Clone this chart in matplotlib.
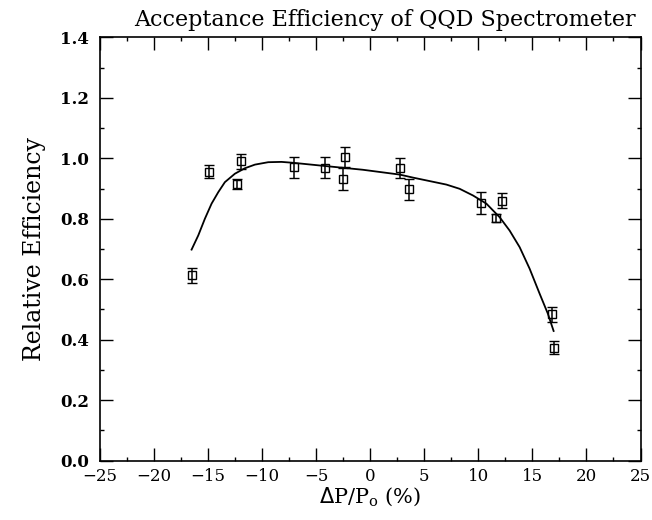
import numpy as np
import matplotlib
matplotlib.use('Agg')
import matplotlib.pyplot as plt
from matplotlib.ticker import MultipleLocator, FormatStrFormatter

# measured points
dp = [-16.53, -14.93, -11.94, -12.31, -7.05, -4.16, -2.31, -2.50,
      2.79, 3.55, 10.21, 12.15, 11.60, 16.84, 17.03]
eff = [0.613, 0.956, 0.990, 0.915, 0.970, 0.969, 1.003, 0.931,
       0.968, 0.897, 0.851, 0.860, 0.802, 0.484, 0.374]
err = [0.025, 0.021, 0.025, 0.017, 0.035, 0.035, 0.033, 0.037,
       0.032, 0.036, 0.036, 0.024, 0.014, 0.025, 0.021]

# fitted curve
fit_x = [-16.53, -15.91, -15.30, -14.68, -14.06, -13.45, -12.52, -11.60,
         -10.67, -9.44, -8.21, -7.13, -4.07, -0.69, 2.73, 3.96, 7.04,
         8.27, 9.50, 10.74, 11.97, 12.89, 13.82, 14.74, 15.67, 16.43, 16.96]
fit_y = [0.698, 0.745, 0.800, 0.850, 0.888, 0.921, 0.949, 0.967,
         0.979, 0.987, 0.988, 0.985, 0.974, 0.962, 0.946, 0.936, 0.913,
         0.899, 0.877, 0.850, 0.805, 0.761, 0.706, 0.635, 0.552, 0.486, 0.429]

plt.rcParams['font.family'] = 'DejaVu Serif'

fig = plt.figure(figsize=(6.52, 5.2), dpi=100)
ax = fig.add_axes([0.1534, 0.114, 0.8290, 0.8143])

ax.plot(fit_x, fit_y, color='black', linewidth=1.3)
ax.errorbar(dp, eff, yerr=err, fmt='s', color='black', mfc='none',
            markersize=5.5, markeredgewidth=1.0, elinewidth=1.1,
            capsize=3.3, capthick=1.1)

ax.set_xlim(-25, 25)
ax.set_ylim(0, 1.4)
ax.xaxis.set_major_locator(MultipleLocator(5))
ax.xaxis.set_minor_locator(MultipleLocator(2.5))
ax.yaxis.set_major_locator(MultipleLocator(0.2))
ax.yaxis.set_minor_locator(MultipleLocator(0.1))
ax.yaxis.set_major_formatter(FormatStrFormatter('%.1f'))

ax.tick_params(which='both', direction='in', top=True, right=True,
               width=1.0, labelsize=12)
ax.tick_params(which='major', length=9.5)
ax.tick_params(which='minor', length=3.2)
ax.tick_params(axis='y', pad=8)
ax.tick_params(axis='x', pad=5)
for lab in ax.get_yticklabels():
    lab.set_fontweight('bold')
for s in ax.spines.values():
    s.set_linewidth(1.2)

ax.set_title('Acceptance Efficiency of QQD Spectrometer', fontsize=16,
             pad=8, x=0.528)
ax.set_ylabel('Relative Efficiency', fontsize=17, labelpad=10)
ax.set_xlabel(r'$\Delta$P/P$_\mathregular{o}$ (%)', fontsize=15, labelpad=1)

fig.savefig('out.png', dpi=100)
